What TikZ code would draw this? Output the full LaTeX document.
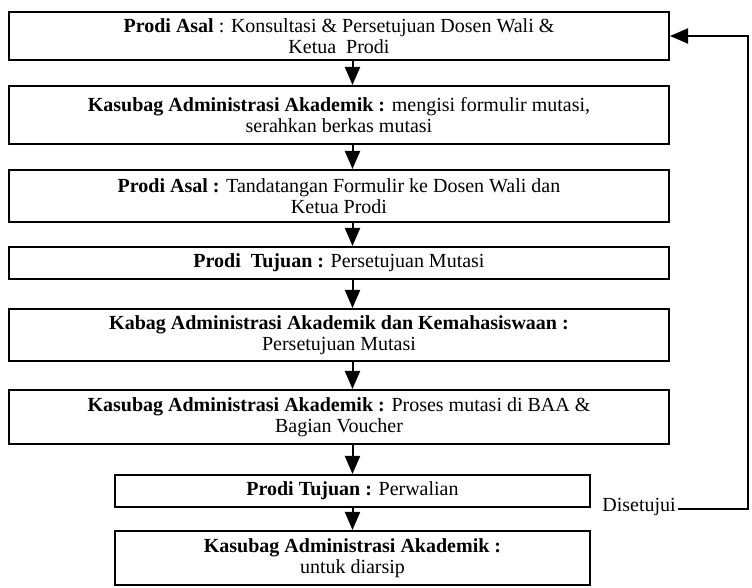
\documentclass[tikz,border=0pt]{standalone}
\usepackage{fontspec}
\setmainfont{Liberation Serif}
\usetikzlibrary{arrows.meta}

\begin{document}
\begin{tikzpicture}[
    x=0.5pt, y=-0.5pt,
    font=\fontsize{10}{10.5}\selectfont,
    stage/.style={draw, line width=1pt, align=center, inner sep=2pt},
    wide/.style={stage, minimum width=330pt},
    narrow/.style={stage, minimum width=237.5pt},
    flow/.style={-{Triangle[length=9pt, width=7.5pt]}, line width=1pt},
    note/.style={inner sep=1pt}
]
    \useasboundingbox (0,0) rectangle (752,588);

    % Steps
    \node[wide, minimum height=24pt] (asal) at (339,36) {%
        \textbf{Prodi Asal} : Konsultasi \& Persetujuan Dosen Wali \&\\
        Ketua~ Prodi};
    \node[wide, minimum height=29pt] (isi) at (339,115) {%
        \textbf{Kasubag Administrasi Akademik :} mengisi formulir mutasi,\\
        serahkan berkas mutasi};
    \node[wide, minimum height=26pt] (ttd) at (339,196) {%
        \textbf{Prodi Asal :} Tandatangan Formulir ke Dosen Wali dan\\
        Ketua Prodi};
    \node[wide, minimum height=16pt] (tujuan) at (339,263) {%
        \textbf{Prodi~ Tujuan :} Persetujuan Mutasi};
    \node[wide, minimum height=26pt] (kabag) at (339,335) {%
        \textbf{Kabag Administrasi Akademik dan Kemahasiswaan :}\\
        Persetujuan Mutasi};
    \node[wide, minimum height=27pt] (proses) at (339,417) {%
        \textbf{Kasubag Administrasi Akademik :} Proses mutasi di BAA \&\\
        Bagian Voucher};
    \node[narrow, minimum height=16pt] (wali) at (352.5,491) {%
        \textbf{Prodi Tujuan :} Perwalian};
    \node[narrow, minimum height=27pt] (arsip) at (352.5,558) {%
        \textbf{Kasubag Administrasi Akademik :}\\
        untuk diarsip};

    % Flow down
    \draw[flow] (asal.south -| wali) -- (isi.north -| wali);
    \draw[flow] (isi.south -| wali) -- (ttd.north -| wali);
    \draw[flow] (ttd.south -| wali) -- (tujuan.north -| wali);
    \draw[flow] (tujuan.south -| wali) -- (kabag.north -| wali);
    \draw[flow] (kabag.south -| wali) -- (proses.north -| wali);
    \draw[flow] (proses.south -| wali) -- (wali.north);
    \draw[flow] (wali.south) -- (arsip.north);

    % Back to start
    \node[note, anchor=base west] (ok) at (600,512) {Disetujui};
    \coordinate (back) at (748,509);
    \draw[flow] (ok.east |- back) -- (back) -- (back |- asal.east) -- (asal.east);

\end{tikzpicture}
\end{document}
